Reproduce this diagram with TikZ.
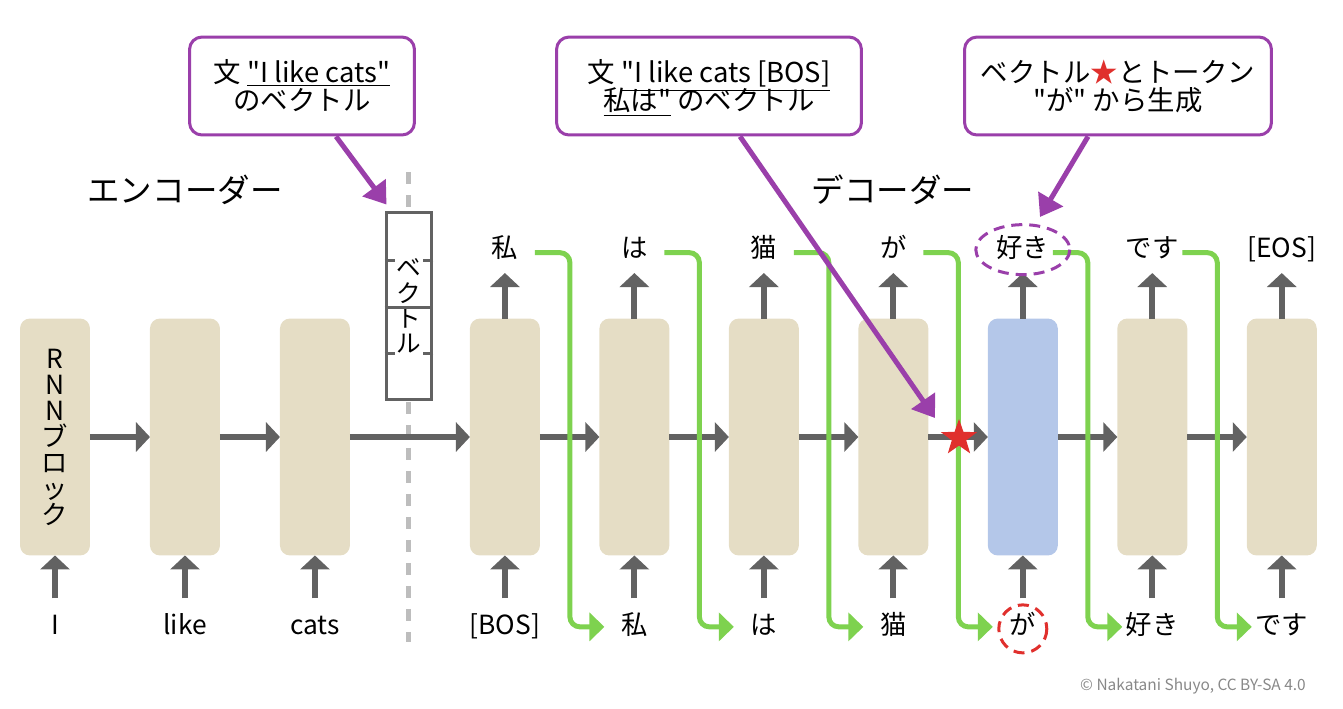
\documentclass[tikz,border=0pt]{standalone}
\usepackage{fontspec}
\setmainfont{Noto Sans CJK JP}[Ligatures=TeXOff]
\usetikzlibrary{positioning, calc, shapes, arrows.meta}
\definecolor{blockbeige}{HTML}{E5DDC5}
\definecolor{blockblue}{HTML}{B4C7E9}
\definecolor{flowgray}{HTML}{626262}
\definecolor{feedgreen}{HTML}{7ED24F}
\definecolor{notepurple}{HTML}{9A3FAA}
\definecolor{starred}{HTML}{E0302D}
\definecolor{cutgray}{HTML}{BDBDBD}
\definecolor{creditgray}{HTML}{888888}
\newcommand{\wordline}[1]{\smash{\underline{#1}}}

\begin{document}
\begin{tikzpicture}[x=0.02cm, y=-0.02cm, font=\fontsize{15}{18}\selectfont,
  block/.style={fill=blockbeige, rounded corners=0.2cm, minimum width=1.4cm, minimum height=4.74cm, inner sep=0pt, outer sep=0pt},
  word/.style={text height=0.8em, text depth=0.2em, inner sep=1pt},
  flow/.style={draw=flowgray, line width=0.12cm, -{Triangle[length=0.28cm, width=0.58cm]}},
  feed/.style={draw=feedgreen, line width=0.1cm, rounded corners=0.2cm, -{Triangle[length=0.3cm, width=0.56cm]}},
  vecbox/.style={draw=flowgray, line width=0.06cm, fill=white, minimum width=0.92cm, minimum height=3.76cm, inner sep=0pt, align=center, font=\fontsize{14}{14.4}\selectfont},
  vecsep/.style={draw=flowgray, line width=0.06cm},
  cut/.style={draw=cutgray, line width=0.1cm, dash pattern=on 0.24cm off 0.22cm},
  note/.style={draw=notepurple, line width=0.06cm, fill=white, rounded corners=0.25cm, align=center, minimum height=1.96cm, inner sep=0pt, font=\fontsize{15.6}{16}\selectfont},
  pointer/.style={draw=notepurple, line width=0.1cm, -{Triangle[length=0.42cm, width=0.56cm]}},
  ring/.style={line width=0.06cm, dash pattern=on 0.22cm off 0.14cm},
  ]
  \useasboundingbox (0,0) rectangle (1343,708);

  % border between encoder and decoder
  \coordinate (cuttop) at (408,172);
  \coordinate (cutbot) at (408,642);
  \draw[cut] (cuttop) -- (cutbot);

  % encoder
  \node[block, align=center, font=\fontsize{15}{14.8}\selectfont] (b1) at (55,437) {R\\N\\N\\ブ\\ロ\\ッ\\ク};
  \node[block, right=1.2cm of b1] (b2) {};
  \node[block, right=1.2cm of b2] (b3) {};
  % decoder
  \node[block, right=2.4cm of b3] (b4) {};
  \node[block, right=1.19cm of b4] (b5) {};
  \node[block, right=1.19cm of b5] (b6) {};
  \node[block, right=1.19cm of b6] (b7) {};
  \node[block, fill=blockblue, right=1.19cm of b7] (b8) {};
  \node[block, right=1.19cm of b8] (b9) {};
  \node[block, right=1.19cm of b9] (b10) {};

  % input tokens
  \node[word, below=1.25cm of b1] (i1) {I};
  \node[word, below=1.25cm of b2] (i2) {like};
  \node[word, below=1.25cm of b3] (i3) {cats};
  \node[word, below=1.25cm of b4] (i4) {[BOS]};
  \node[word, below=1.25cm of b5] (i5) {私};
  \node[word, below=1.25cm of b6] (i6) {は};
  \node[word, below=1.25cm of b7] (i7) {猫};
  \node[word, below=1.25cm of b8] (i8) {が};
  \node[word, below=1.25cm of b9] (i9) {好き};
  \node[word, below=1.25cm of b10] (i10) {です};

  % output tokens
  \node[word, above=1.1cm of b4] (o4) {私};
  \node[word, above=1.1cm of b5] (o5) {は};
  \node[word, above=1.1cm of b6] (o6) {猫};
  \node[word, above=1.1cm of b7] (o7) {が};
  \node[word, above=1.1cm of b8] (o8) {好き};
  \node[word, above=1.1cm of b9] (o9) {です};
  \node[word, above=1.1cm of b10] (o10) {[EOS]};

  % sentence vector
  \node[vecbox] (vec) at (409,306) {ベ\\ク\\ト\\ル};
  \draw[vecsep] ($(vec.west)+(0,-46)$) -- ++(10,0);
  \draw[vecsep] ($(vec.east)+(0,-46)$) -- ++(-10,0);
  \draw[vecsep] ($(vec.west)+(0,1)$) -- ($(vec.east)+(0,1)$);
  \draw[vecsep] ($(vec.west)+(0,47)$) -- ++(10,0);
  \draw[vecsep] ($(vec.east)+(0,47)$) -- ++(-10,0);

  \node[font=\fontsize{18.5}{20}\selectfont] (enc) at (185,190) {エンコーダー};
  \node[font=\fontsize{18.5}{20}\selectfont] (dec) at (893,190) {デコーダー};

  % hidden state passed along
  \draw[flow] (b1) -- (b2);
  \draw[flow] (b2) -- (b3);
  \draw[flow] (b3) -- (b4);
  \draw[flow] (b4) -- (b5);
  \draw[flow] (b5) -- (b6);
  \draw[flow] (b6) -- (b7);
  \draw[flow] (b7) -- (b8);
  \draw[flow] (b8) -- (b9);
  \draw[flow] (b9) -- (b10);
  % token in
  \draw[flow, shorten <=0.39cm] (i1) -- (b1);
  \draw[flow, shorten <=0.39cm] (i2) -- (b2);
  \draw[flow, shorten <=0.39cm] (i3) -- (b3);
  \draw[flow, shorten <=0.39cm] (i4) -- (b4);
  \draw[flow, shorten <=0.39cm] (i5) -- (b5);
  \draw[flow, shorten <=0.39cm] (i6) -- (b6);
  \draw[flow, shorten <=0.39cm] (i7) -- (b7);
  \draw[flow, shorten <=0.39cm] (i8) -- (b8);
  \draw[flow, shorten <=0.39cm] (i9) -- (b9);
  \draw[flow, shorten <=0.39cm] (i10) -- (b10);
  % token out
  \draw[flow, shorten >=0.19cm] (b4) -- (o4);
  \draw[flow, shorten >=0.19cm] (b5) -- (o5);
  \draw[flow, shorten >=0.19cm] (b6) -- (o6);
  \draw[flow, shorten >=0.19cm] (b7) -- (o7);
  \draw[flow, shorten >=0.19cm] (b8) -- (o8);
  \draw[flow, shorten >=0.19cm] (b9) -- (o9);
  \draw[flow, shorten >=0.19cm] (b10) -- (o10);

  % output fed back as next input
  \draw[feed] ($(o4 -| b4.east)+(-5,0)$) -| ($(b4.east)+(30,0)$) |- ($(i5 -| b5.west)+(5,-2)$);
  \draw[feed] ($(o5 -| b5.east)+(-5,0)$) -| ($(b5.east)+(30,0)$) |- ($(i6 -| b6.west)+(5,-2)$);
  \draw[feed] ($(o6 -| b6.east)+(-5,0)$) -| ($(b6.east)+(30,0)$) |- ($(i7 -| b7.west)+(5,-2)$);
  \draw[feed] ($(o7 -| b7.east)+(-5,0)$) -| ($(b7.east)+(30,0)$) |- ($(i8 -| b8.west)+(5,-2)$);
  \draw[feed] ($(o8 -| b8.east)+(-5,0)$) -| ($(b8.east)+(30,0)$) |- ($(i9 -| b9.west)+(5,-2)$);
  \draw[feed] ($(o9 -| b9.east)+(-5,0)$) -| ($(b9.east)+(30,0)$) |- ($(i10 -| b10.west)+(5,-2)$);

  \node[star, star points=5, star point ratio=2.5, fill=starred, minimum size=0.76cm, inner sep=0pt] (vstar) at (959,438) {};
  \draw[ring, notepurple] ($(o8)+(0,-3)$) ellipse [x radius=47, y radius=25];
  \draw[ring, starred] (i8) circle [radius=24];

  % callouts
  \node[note, minimum width=4.5cm] (n1) at (302,86) {文 \wordline{"I like cats"}\\のベクトル};
  \node[note, minimum width=6.1cm] (n2) at (709,86) {文 \wordline{"I like cats [BOS]}\\\wordline{私は"} のベクトル};
  \node[note, minimum width=6.14cm] (n3) at (1118,86) {ベクトル{\color{starred}★}とトークン\\"が" から生成};
  \coordinate (p1) at ($(vec.north west)+(2,-6)$);
  \coordinate (p2) at (935,418);
  \coordinate (p3) at (1040,217);
  \draw[pointer] ($(n1.south west)+(148,0)$) -- (p1);
  \draw[pointer] ($(n2.south west)+(185,0)$) -- (p2);
  \draw[pointer] ($(n3.south west)+(125,0)$) -- (p3);

  \node[anchor=east, text=creditgray, font=\fontsize{8.8}{10}\selectfont] (credit) at (1312,686) {© Nakatani Shuyo, CC BY-SA 4.0};
\end{tikzpicture}
\end{document}
